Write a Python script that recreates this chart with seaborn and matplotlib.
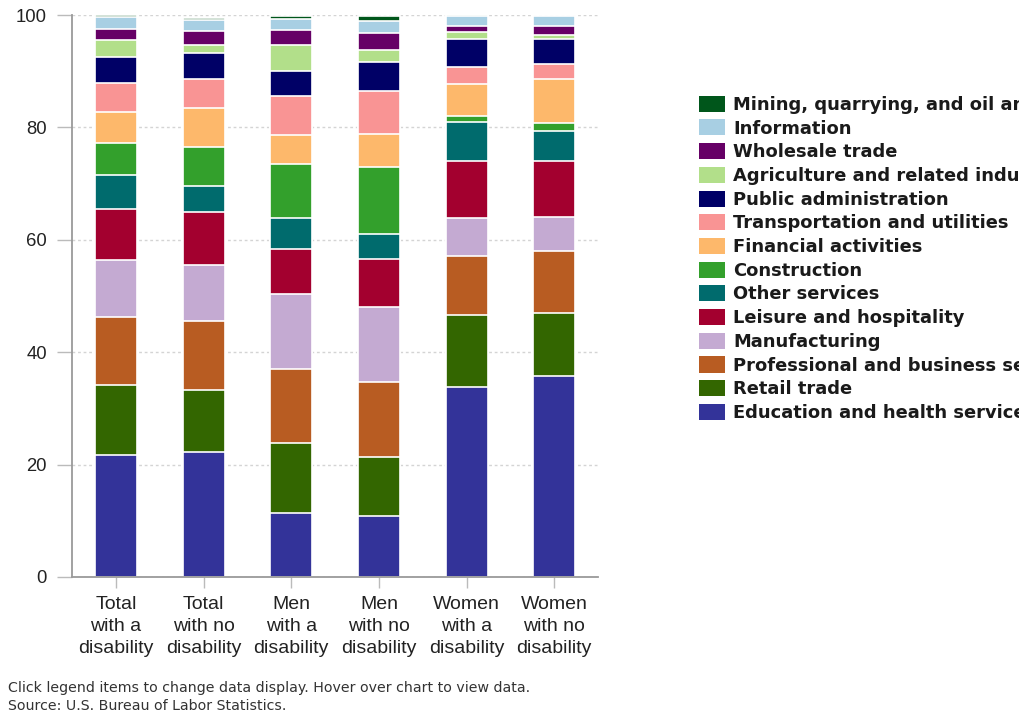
import matplotlib
matplotlib.use("Agg")
import matplotlib.pyplot as plt
from matplotlib.patches import Patch
import numpy as np
import pandas as pd
import seaborn as sns

# Employed persons by industry and disability status, percent distribution
categories = [
    "Total\nwith a\ndisability",
    "Total\nwith no\ndisability",
    "Men\nwith a\ndisability",
    "Men\nwith no\ndisability",
    "Women\nwith a\ndisability",
    "Women\nwith no\ndisability",
]

# Industries, listed from the bottom of each stack upward
education = [21.7, 22.3, 11.3, 10.9, 33.8, 35.8]
retail = [12.5, 11.0, 12.5, 10.5, 12.9, 11.1]
professional = [12.1, 12.3, 13.3, 13.3, 10.4, 11.1]
manufacturing = [10.1, 10.0, 13.3, 13.4, 6.8, 6.0]
leisure = [9.1, 9.4, 7.9, 8.5, 10.1, 10.1]
other_services = [6.0, 4.6, 5.6, 4.4, 6.9, 5.3]
construction = [5.8, 6.9, 9.6, 11.9, 1.1, 1.4]
financial = [5.4, 6.9, 5.2, 6.0, 5.7, 7.8]
transportation = [5.2, 5.3, 6.9, 7.5, 3.0, 2.7]
public_admin = [4.6, 4.6, 4.5, 5.2, 5.0, 4.5]
agriculture = [3.1, 1.4, 4.6, 2.1, 1.3, 0.6]
wholesale = [2.0, 2.5, 2.6, 3.1, 1.0, 1.6]
information = [2.0, 2.0, 2.0, 2.2, 1.9, 1.8]
mining = [0.4, 0.3, 0.5, 0.9, 0.1, 0.1]

industry_names = [
    "Education and health services",
    "Retail trade",
    "Professional and business services",
    "Manufacturing",
    "Leisure and hospitality",
    "Other services",
    "Construction",
    "Financial activities",
    "Transportation and utilities",
    "Public administration",
    "Agriculture and related industries",
    "Wholesale trade",
    "Information",
    "Mining, quarrying, and oil and gas extraction",
]
industry_values = [
    education, retail, professional, manufacturing, leisure, other_services,
    construction, financial, transportation, public_admin, agriculture,
    wholesale, information, mining,
]
industry_colors = [
    "#333399", "#336600", "#b85c22", "#c4aad2", "#a3002f", "#006b6d",
    "#33a02c", "#fdb86b", "#f99494", "#000066", "#b2df8a", "#660066",
    "#a8cfe3", "#00561b",
]

sns.set_theme(style="white")
plt.rcParams["font.family"] = ["Liberation Sans", "DejaVu Sans"]

fig = plt.figure(figsize=(10.19, 7.14), dpi=100)
ax = fig.add_axes([0.0707, 0.1919, 0.5162, 0.787])

df = pd.DataFrame({"group": categories})
running = np.zeros(len(categories))
cumulative = []
for vals in industry_values:
    running = running + np.array(vals)
    cumulative.append(running.copy())

# Draw the tallest cumulative layer first so each lower layer sits on top
for name, color, cum in reversed(list(zip(industry_names, industry_colors, cumulative))):
    df["value"] = cum
    sns.barplot(data=df, x="group", y="value", color=color, width=0.48,
                edgecolor="white", linewidth=1.2, saturation=1, ax=ax,
                order=categories)

ax.set_xlim(-0.5, 5.5)
ax.set_ylim(0, 100)
ax.set_yticks([0, 20, 40, 60, 80, 100])
ax.set_xlabel("")
ax.set_ylabel("")
ax.set_axisbelow(True)
ax.yaxis.grid(True, linestyle=(0, (2, 2)), color="#d4d4d4", linewidth=1.0)
ax.xaxis.grid(False)

for side in ["top", "right"]:
    ax.spines[side].set_visible(False)
for side in ["left", "bottom"]:
    ax.spines[side].set_color("#9a9a9a")
    ax.spines[side].set_linewidth(1.3)

ax.tick_params(axis="y", length=11, width=1, color="#bbbbbb", pad=7,
               labelsize=13.3, labelcolor="#222222", left=True)
ax.tick_params(axis="x", length=8, width=1, color="#bbbbbb", pad=6,
               labelsize=14.0, labelcolor="#222222", bottom=True)
for lab in ax.get_xticklabels():
    lab.set_linespacing(1.36)

handles = [Patch(facecolor=c, edgecolor="none") for c in industry_colors]
leg = fig.legend(
    handles[::-1], industry_names[::-1],
    loc="upper left", bbox_to_anchor=(0.686, 0.866),
    frameon=False, prop={"family": "DejaVu Sans", "weight": "bold", "size": 12.9},
    handlelength=1.45, handleheight=1.0, handletextpad=0.45,
    labelspacing=0.31, borderaxespad=0, borderpad=0,
)
for t in leg.get_texts():
    t.set_color("#1a1a1a")

fig.text(0.008, 0.036, "Click legend items to change data display. Hover over chart to view data.",
         fontsize=10.2, family="DejaVu Sans", color="#333333", va="center")
fig.text(0.008, 0.011, "Source: U.S. Bureau of Labor Statistics.",
         fontsize=10.2, family="DejaVu Sans", color="#333333", va="center")

fig.savefig("out.png", dpi=100)
